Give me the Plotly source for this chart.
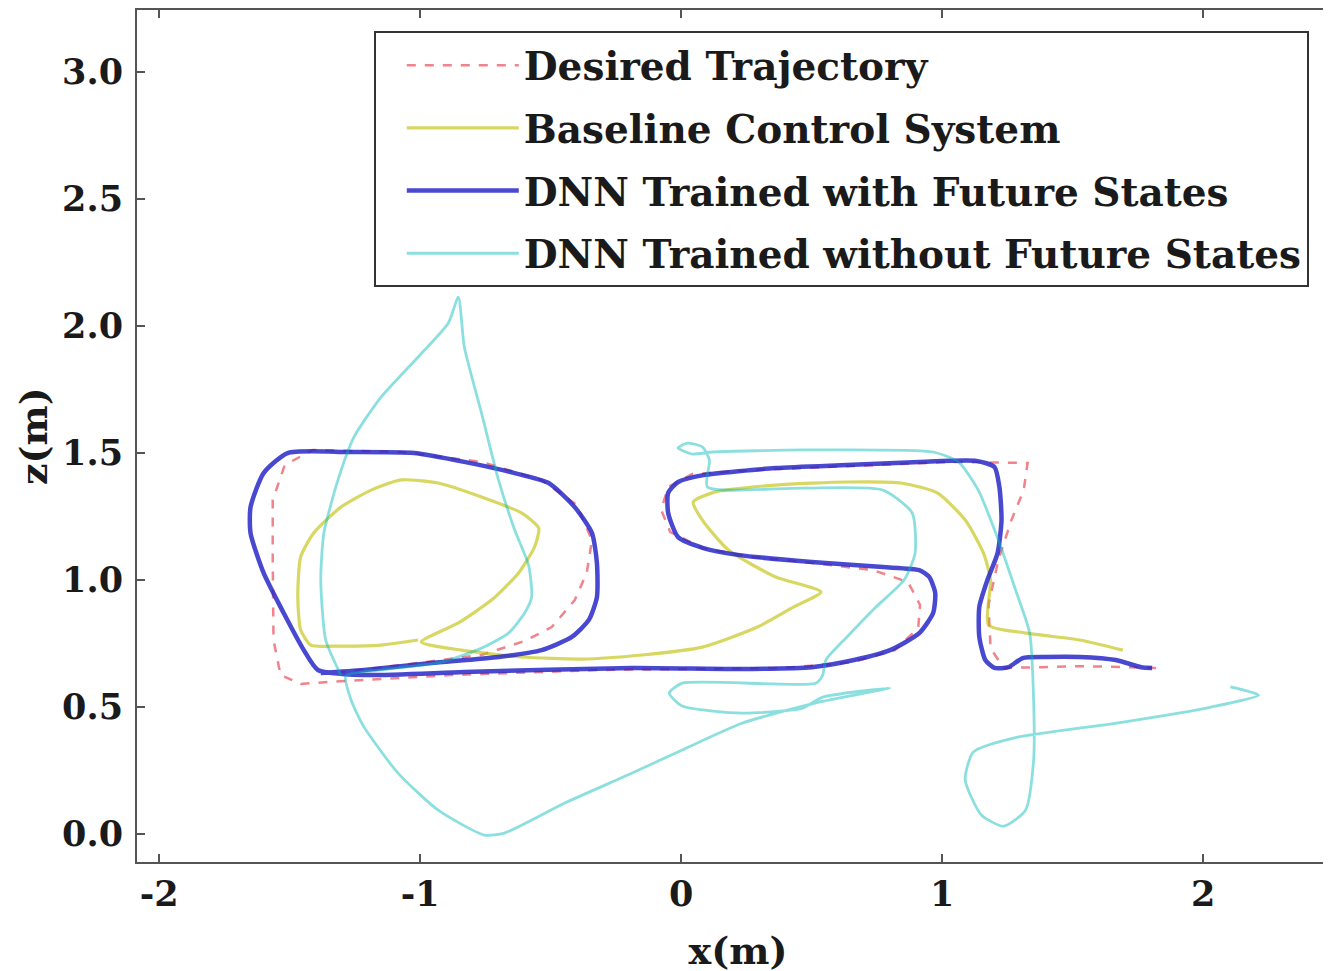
import plotly.graph_objects as go

# ---------------- data (x in m, z in m) ----------------
desired_x = [1.819, 1.542, 1.388, 1.235, 1.185, 1.177, 1.215, 1.265, 1.312, 1.327, 1.042, 0.658, 0.273,
             0.042, -0.050, -0.077, -0.042, 0.081, 0.273, 0.504, 0.735, 0.869, 0.915, 0.908, 0.819, 0.658,
             0.388, -0.304, -0.881, -1.304, -1.458, -1.535, -1.562, -1.565, -1.565, -1.519, -1.412, -1.073,
             -0.765, -0.535, -0.400, -0.342, -0.362, -0.408, -0.496, -0.600, -0.765, -1.073, -1.304]
desired_z = [0.654, 0.661, 0.657, 0.654, 0.732, 0.902, 1.079, 1.236, 1.354, 1.461, 1.465, 1.449, 1.433,
             1.417, 1.366, 1.276, 1.189, 1.126, 1.091, 1.067, 1.039, 0.992, 0.902, 0.811, 0.724, 0.677,
             0.654, 0.646, 0.626, 0.602, 0.591, 0.626, 0.764, 1.079, 1.315, 1.453, 1.512, 1.504,
             1.465, 1.394, 1.295, 1.157, 1.028, 0.921, 0.815, 0.760, 0.705, 0.665, 0.638]

baseline_x = [-1.008, -1.150, -1.304, -1.419, -1.458, -1.469, -1.458, -1.408, -1.304, -1.188, -1.073, -0.931,
              -0.765, -0.612, -0.546, -0.562, -0.623, -0.727, -0.854, -0.996, -0.842, -0.612, -0.381, -0.150,
              0.081, 0.292, 0.431, 0.535, 0.362, 0.181, 0.081, 0.046, 0.127, 0.362, 0.635, 0.842, 0.981,
              1.088, 1.158, 1.185, 1.177, 1.323, 1.527, 1.692]
baseline_z = [0.764, 0.744, 0.740, 0.744, 0.803, 0.933, 1.091, 1.185, 1.287, 1.354, 1.394, 1.382,
              1.327, 1.264, 1.205, 1.130, 1.028, 0.921, 0.831, 0.756, 0.724, 0.697, 0.689, 0.705,
              0.736, 0.815, 0.894, 0.953, 1.012, 1.118, 1.236, 1.307, 1.346, 1.374, 1.386, 1.382, 1.343,
              1.236, 1.106, 1.000, 0.823, 0.791, 0.764, 0.724]

dnn_future_x = [1.804, 1.762, 1.665, 1.527, 1.392, 1.308, 1.254, 1.200, 1.165, 1.142, 1.142, 1.173, 1.212,
                1.227, 1.219, 1.200, 1.131, 0.912, 0.635, 0.362, 0.085, -0.012, -0.050, -0.050, -0.012,
                0.085, 0.223, 0.500, 0.773, 0.912, 0.950, 0.973, 0.965, 0.912, 0.800, 0.662, 0.500, 0.223,
                -0.188, -0.831, -1.215, -1.392, -1.446, -1.523, -1.600, -1.650, -1.650, -1.600, -1.508,
                -1.277, -1.023, -0.831, -0.638, -0.508, -0.408, -0.342, -0.323, -0.323, -0.354, -0.419,
                -0.535, -0.700, -0.958, -1.215, -1.381]
dnn_future_z = [0.654, 0.657, 0.685, 0.697, 0.697, 0.693, 0.657, 0.654, 0.685, 0.776, 0.894, 1.000, 1.106,
                1.236, 1.366, 1.445, 1.469, 1.465, 1.453, 1.441, 1.413, 1.386, 1.343, 1.264, 1.169,
                1.126, 1.098, 1.071, 1.051, 1.039, 1.012, 0.949, 0.870, 0.791, 0.724, 0.685, 0.657, 0.650,
                0.654, 0.638, 0.626, 0.646, 0.724, 0.870, 1.028, 1.185, 1.287, 1.421, 1.500,
                1.504, 1.500, 1.465, 1.421, 1.382, 1.287, 1.185, 1.067, 0.933, 0.843, 0.776,
                0.724, 0.697, 0.673, 0.646, 0.634]

dnn_nofuture_x = [-1.304, -1.362, -1.381, -1.369, -1.315, -1.254, -1.150, -1.008, -0.892, -0.854, -0.831,
                  -0.765, -0.700, -0.638, -0.585, -0.573, -0.600, -0.662, -0.765, -0.919, -1.150, -1.285,
                  -1.265, -1.215, -1.085, -0.931, -0.754, -0.677, -0.446, -0.188, 0.004, 0.235, 0.531,
                  0.800, 0.542, 0.465, 0.235, 0.004, -0.046, 0.004, 0.515, 0.542, 0.554, 0.635, 0.746,
                  0.854, 0.896, 0.885, 0.773, 0.465, 0.100, 0.108, 0.081, 0.023, -0.012, 0.042, 0.119,
                  0.465, 0.965, 1.062, 1.138, 1.215, 1.281, 1.335, 1.350, 1.350, 1.319, 1.235, 1.150,
                  1.088, 1.119, 1.273, 1.669, 2.031, 2.212, 2.104]
dnn_nofuture_z = [0.626, 0.764, 1.000, 1.185, 1.394, 1.563, 1.720, 1.878, 2.012, 2.114, 1.917,
                  1.657, 1.394, 1.197, 1.059, 0.933, 0.870, 0.791, 0.732, 0.677, 0.646, 0.622,
                  0.528, 0.421, 0.240, 0.094, -0.004, 0.004, 0.122, 0.240, 0.331, 0.437, 0.520,
                  0.575, 0.539, 0.496, 0.476, 0.504, 0.555, 0.594, 0.594, 0.626, 0.685, 0.776, 0.894,
                  1.000, 1.106, 1.264, 1.354, 1.362, 1.366, 1.472, 1.524, 1.539, 1.520, 1.496, 1.504,
                  1.512, 1.504, 1.465, 1.354, 1.157, 0.961, 0.791, 0.528, 0.291, 0.094, 0.031, 0.075,
                  0.213, 0.323, 0.378, 0.437, 0.500, 0.547, 0.579]

series_names = ["Desired Trajectory", "Baseline Control System",
                "DNN Trained with Future States", "DNN Trained without Future States"]

x_tick_vals = [-2, -1, 0, 1, 2]
x_tick_labels = ["-2", "-1", "0", "1", "2"]
y_tick_vals = [0.0, 0.5, 1.0, 1.5, 2.0, 2.5, 3.0]
y_tick_labels = ["0.0", "0.5", "1.0", "1.5", "2.0", "2.5", "3.0"]

# ---------------- figure ----------------
FONT = "DejaVu Serif"
fig = go.Figure()

fig.add_trace(go.Scatter(x=desired_x, y=desired_z, mode="lines", name=series_names[0],
                         legendgroup="g1",
                         line=dict(color="rgba(235,90,100,0.75)", width=2.5, dash="dash")))
fig.add_trace(go.Scatter(x=baseline_x, y=baseline_z, mode="lines", name=series_names[1],
                         legendgroup="g2",
                         line=dict(color="rgba(191,191,0,0.62)", width=3.2, shape="spline", smoothing=0.6)))
fig.add_trace(go.Scatter(x=dnn_future_x, y=dnn_future_z, mode="lines", name=series_names[2],
                         legendgroup="g3",
                         line=dict(color="rgba(40,40,200,0.85)", width=4.5, shape="spline", smoothing=0.6)))
fig.add_trace(go.Scatter(x=dnn_nofuture_x, y=dnn_nofuture_z, mode="lines", name=series_names[3],
                         legendgroup="g4",
                         line=dict(color="rgba(0,185,185,0.45)", width=2.8, shape="spline", smoothing=0.6)))

axis_common = dict(
    showline=True, linecolor="#555", linewidth=2, mirror="allticks",
    ticks="inside", ticklen=8, tickwidth=1.5, tickcolor="#555",
    showgrid=False, zeroline=False, automargin=False,
    tickfont=dict(family=FONT, size=35, color="#1a1a1a", weight="bold"),
)

TITLE_FONT = dict(family=FONT, size=38, color="#1a1a1a", weight="bold")

fig.update_layout(
    width=1331, height=971,
    margin=dict(l=129, r=0, t=2, b=117, autoexpand=False),
    paper_bgcolor="white", plot_bgcolor="white",
    xaxis=dict(range=[-2.085, 2.52], tickvals=x_tick_vals, ticktext=x_tick_labels,
               title=dict(text="x(m)", font=TITLE_FONT, standoff=24),
               ticklabelstandoff=0, **axis_common),
    yaxis=dict(range=[-0.11, 3.244], tickvals=y_tick_vals, ticktext=y_tick_labels,
               ticklabelstandoff=5, **axis_common),
    legend=dict(x=0.197, y=0.975, xanchor="left", yanchor="top",
                bgcolor="white", bordercolor="#333", borderwidth=2,
                font=dict(family=FONT, size=39, color="#1a1a1a", weight="bold"),
                tracegroupgap=9, itemwidth=112, indentation=26, traceorder="grouped"),
    showlegend=True,
    annotations=[dict(text="z(m)", textangle=-90, font=TITLE_FONT,
                      xref="paper", yref="paper", x=-0.0865, y=0.5,
                      xanchor="center", yanchor="middle", showarrow=False)],
)

fig.write_html("out.html")
